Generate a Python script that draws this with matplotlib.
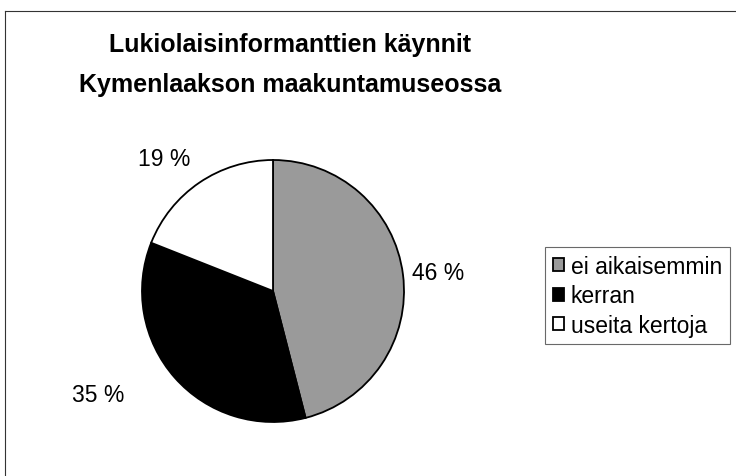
import matplotlib
matplotlib.use('Agg')
import matplotlib.pyplot as plt
from matplotlib.lines import Line2D

title = 'Lukiolaisinformanttien käynnit\nKymenlaakson maakuntamuseossa'
categories = ['ei aikaisemmin', 'kerran', 'useita kertoja']
shares = [46, 35, 19]
colors = ['#9a9a9a', '#000000', '#ffffff']
pct_labels = ['46 %', '35 %', '19 %']

# label anchor points in pixel coords (x, y from top)
label_pos = [(438, 274), (98, 396), (164, 159)]

W, H = 736, 477
fig = plt.figure(figsize=(W / 100, H / 100), dpi=100)
ax = fig.add_axes([0, 0, 1, 1])

wedges, _ = ax.pie(shares, colors=colors, startangle=90, counterclock=False,
                   center=(273, H - 292), radius=131,
                   wedgeprops=dict(edgecolor='black', linewidth=1.3))
ax.set_xlim(0, W)
ax.set_ylim(0, H)
ax.axis('off')

font = ['Liberation Sans', 'DejaVu Sans']
for txt, (x, y) in zip(pct_labels, label_pos):
    ax.text(x, H - y, txt, ha='center', va='center', fontsize=16.5, family=font)

fig.text(290 / W, 1 - 65 / H, title, ha='center', va='center', fontsize=18,
         fontweight='bold', family=font, linespacing=1.85)

leg = fig.legend(wedges, categories, loc='upper left',
                 bbox_to_anchor=(545 / W, 1 - 248 / H),
                 prop=dict(family=font, size=16.5),
                 frameon=True, fancybox=False, handlelength=0.5, handleheight=0.5,
                 handletextpad=0.3, labelspacing=0.29, borderpad=0.33,
                 borderaxespad=0)
leg.get_frame().set_edgecolor('#444444')
leg.get_frame().set_linewidth(0.8)

# chart frame: only top and left edges visible in the scan
fig.add_artist(Line2D([5 / W, 5 / W], [0, 1 - 12 / H], color='#333333', lw=0.8))
fig.add_artist(Line2D([5 / W, 1], [1 - 12 / H, 1 - 12 / H], color='#333333', lw=0.8))

fig.savefig('out.png', dpi=100)
